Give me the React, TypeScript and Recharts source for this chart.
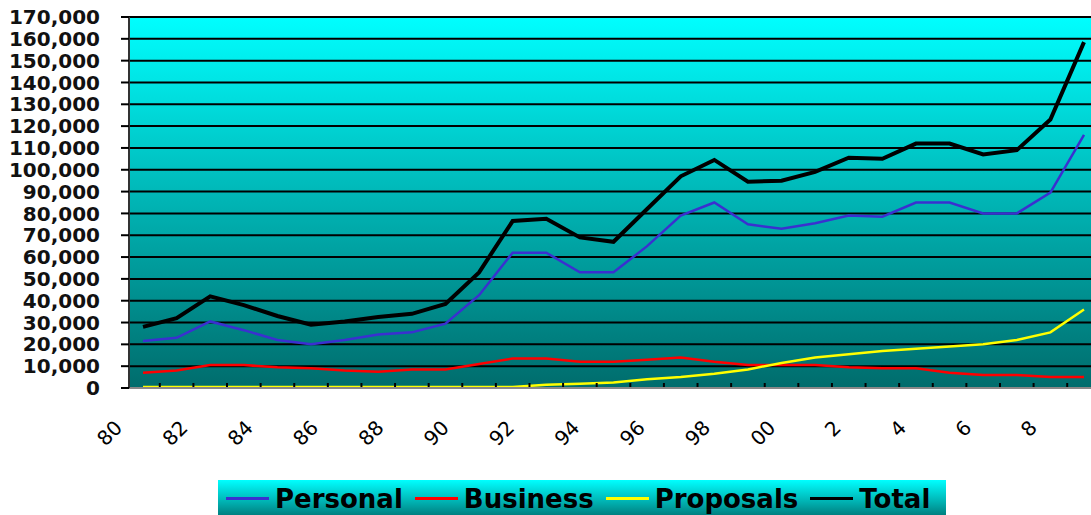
import { LineChart, Line, XAxis, YAxis, CartesianGrid, Legend } from "recharts";

const years = [
  "80", "81", "82", "83", "84", "85", "86", "87", "88", "89",
  "90", "91", "92", "93", "94", "95", "96", "97", "98", "99",
  "00", "01", "02", "03", "04", "05", "06", "07", "08",
];

const personal = [
  21500, 23000, 30500, 26500, 22000, 20000, 22000, 24500, 25500, 29500,
  42500, 62000, 62000, 53000, 53000, 65000, 79000, 85000, 75000, 73000,
  75500, 79000, 78500, 85000, 85000, 80000, 80000, 89500, 116000,
];

const business = [
  7000, 8000, 10500, 10500, 9500, 9000, 8000, 7500, 8500, 8500,
  11000, 13500, 13500, 12000, 12000, 13000, 14000, 12000, 10500, 10500,
  10500, 9500, 9000, 9000, 7000, 6000, 6000, 5000, 5000,
];

const proposals = [
  500, 500, 500, 500, 500, 500, 500, 500, 500, 500,
  500, 500, 1500, 2000, 2500, 4000, 5000, 6500, 8500, 11500,
  14000, 15500, 17000, 18000, 19000, 20000, 22000, 25500, 36000,
];

const total = [
  28000, 32000, 42000, 38000, 33000, 29000, 30500, 32500, 34000, 38500,
  53000, 76500, 77500, 69000, 67000, 82000, 97000, 104500, 94500, 95000,
  99000, 105500, 105000, 112000, 112000, 107000, 109000, 123000, 158500,
];

const yTicks = [
  0, 10000, 20000, 30000, 40000, 50000, 60000, 70000, 80000, 90000,
  100000, 110000, 120000, 130000, 140000, 150000, 160000, 170000,
];

const series = [
  { key: "personal", name: "Personal", color: "#3a30d0", width: 2.5 },
  { key: "business", name: "Business", color: "#ff0000", width: 2.5 },
  { key: "proposals", name: "Proposals", color: "#ffff00", width: 2.5 },
  { key: "total", name: "Total", color: "#000000", width: 4 },
];

const data = years.map((y, i) => ({
  year: y,
  personal: personal[i],
  business: business[i],
  proposals: proposals[i],
  total: total[i],
}));

const W = 1091;
const H = 515;
const LEFT = 129;
const PAD_L = 14;
const PAD_R = 7;
const STEP = (W - LEFT - PAD_L - PAD_R) / (years.length - 1);
const FONT = "'DejaVu Sans', sans-serif";

function yearLabel(v: string) {
  if (v === "00") return "00";
  return v.startsWith("0") ? v.slice(1) : v;
}

function XTick(props: any) {
  const { x, y, payload, index } = props;
  const ax = x - 24 - 0.028 * (x - LEFT);
  const ay = y + 36;
  return (
    <g>
      {index < years.length - 1 && (
        <line x1={x + STEP / 2} x2={x + STEP / 2} y1={y - 1} y2={y - 5} stroke="#000" strokeWidth={2} />
      )}
      {index % 2 === 0 && (
        <text
          x={ax}
          y={ay}
          dy="0.35em"
          textAnchor="end"
          transform={`rotate(-45 ${ax} ${ay})`}
          fontFamily={FONT}
          fontSize={20}
          fill="#000"
        >
          {yearLabel(payload.value)}
        </text>
      )}
    </g>
  );
}

function LegendBox() {
  return (
    <div
      style={{
        width: 728,
        height: 35,
        background: "linear-gradient(to bottom, #00ffff, #00a8a8 70%, #008080)",
        display: "flex",
        alignItems: "center",
        paddingLeft: 8,
        paddingTop: 2,
        boxSizing: "border-box",
        fontFamily: FONT,
        fontWeight: "bold",
        fontSize: 26,
        color: "#000",
        whiteSpace: "nowrap",
      }}
    >
      {series.map((s) => (
        <div key={s.key} style={{ display: "flex", alignItems: "center", marginRight: 12 }}>
          <span style={{ display: "inline-block", width: 43, height: 3, background: s.color, marginRight: 6 }} />
          <span>{s.name}</span>
        </div>
      ))}
    </div>
  );
}

export default function App() {
  return (
    <div style={{ position: "absolute", left: 0, top: 0, width: W, height: H, overflow: "hidden", background: "#fff" }}>
      <LineChart width={W} height={H} data={data} margin={{ top: 17, right: 0, left: 0, bottom: 0 }}>
        <defs>
          <linearGradient id="plotBg" x1="0" y1="0" x2="0" y2="1">
            <stop offset="0%" stopColor="#00ffff" />
            <stop offset="50%" stopColor="#00b4b4" />
            <stop offset="100%" stopColor="#006c6c" />
          </linearGradient>
        </defs>
        <CartesianGrid vertical={false} stroke="#000" strokeWidth={2} fill="url(#plotBg)" fillOpacity={1} />
        <XAxis
          dataKey="year"
          interval={0}
          height={92}
          padding={{ left: PAD_L, right: PAD_R }}
          tickLine={false}
          tickSize={0}
          tickMargin={0}
          axisLine={{ stroke: "#888", strokeWidth: 2 }}
          tick={<XTick />}
        />
        <YAxis
          width={LEFT}
          domain={[0, 170000]}
          ticks={yTicks}
          interval={0}
          tickSize={8}
          tickMargin={21}
          tickLine={{ stroke: "#000", strokeWidth: 2 }}
          axisLine={{ stroke: "#333", strokeWidth: 2 }}
          tickFormatter={(v: number) => v.toLocaleString("en-US")}
          tick={{ fontFamily: FONT, fontWeight: "bold", fontSize: 20, fill: "#111" }}
        />
        {series.map((s) => (
          <Line
            key={s.key}
            dataKey={s.key}
            name={s.name}
            stroke={s.color}
            strokeWidth={s.width}
            dot={false}
            type="linear"
            isAnimationActive={false}
          />
        ))}
        <Legend
          content={<LegendBox />}
          wrapperStyle={{ position: "absolute", left: 218, top: 480, width: 728, height: 35 }}
        />
      </LineChart>
    </div>
  );
}
